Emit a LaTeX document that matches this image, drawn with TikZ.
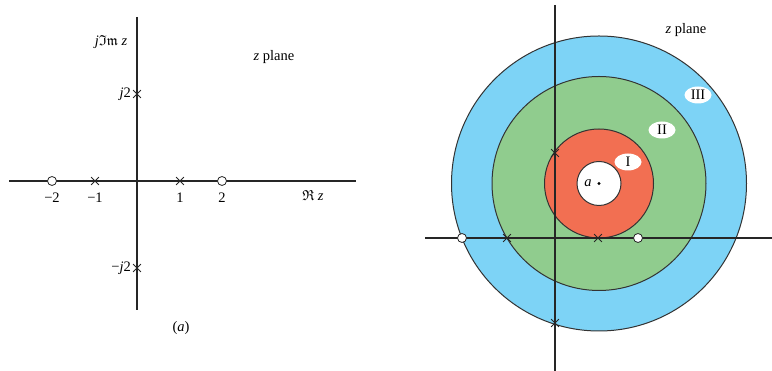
\documentclass[tikz,border=0pt]{standalone}
\usepackage{fontspec}
\usepackage{amssymb}
\setmainfont{Liberation Serif}
\usetikzlibrary{shapes.misc,shapes.geometric}
\definecolor{rblue}{HTML}{7DD3F6}
\definecolor{rgreen}{HTML}{90CC8E}
\definecolor{rred}{HTML}{F26F52}
\definecolor{ring}{HTML}{333333}
\tikzset{
  axis/.style={line width=1.4pt,black!85},
  zero/.style={circle,draw=black!85,fill=white,line width=0.8pt,minimum size=9pt,inner sep=0pt},
  pole/.style={cross out,draw=black!85,line width=0.8pt,minimum size=7pt,inner sep=0pt},
  lbl/.style={font=\fontsize{14.5}{17}\selectfont,inner sep=0pt},
  ringc/.style={draw=ring,line width=1pt},
  tag/.style={ellipse,fill=white,minimum width=27pt,minimum height=17pt,inner sep=0pt,font=\fontsize{14.5}{17}\selectfont},
}
\begin{document}
\begin{tikzpicture}[x=1pt,y=1pt]
\useasboundingbox (0,0) rectangle (772,371);
% ---------- left figure ----------
\coordinate (ly1) at (137,354);
\coordinate (ly2) at (137,61);
\coordinate (lx1) at (9,190);
\coordinate (lx2) at (356,190);
\draw[axis] (ly1) -- (ly2);
\draw[axis] (lx1) -- (lx2);
\node[zero] (lz1) at (52,190) {};
\node[zero] (lz2) at (222,190) {};
\node[pole] (lp1) at (95,190) {};
\node[pole] (lp2) at (180,190) {};
\node[pole] (lp3) at (137,277) {};
\node[pole] (lp4) at (137,103) {};
\node[lbl] (t1) at (52,173) {−2};
\node[lbl] (t2) at (95,173) {−1};
\node[lbl] (t3) at (180,173) {1};
\node[lbl] (t4) at (222,173) {2};
\node[lbl,anchor=east] (t5) at (131,277) {\textit{j}2};
\node[lbl,anchor=east] (t6) at (131,103) {−\textit{j}2};
\node[lbl] (t7) at (111,329) {\textit{j}$\mathfrak{Im}$ \textit{z}};
\node[lbl] (t8) at (274,314) {\textit{z} plane};
\node[lbl] (t9) at (313,176) {$\mathfrak{R}$ \textit{z}};
\node[lbl] (t10) at (181,43) {(\textit{a})};
% ---------- right figure ----------
\coordinate (c) at (599,187.5);
\fill[rblue] (c) circle[radius=147.5pt];
\draw[ringc] (c) circle[radius=147.5pt];
\fill[rgreen] (c) circle[radius=107pt];
\draw[ringc] (c) circle[radius=107pt];
\fill[rred] (c) circle[radius=54.5pt];
\draw[ringc] (c) circle[radius=54.5pt];
\fill[white] (c) circle[radius=22pt];
\draw[ringc] (c) circle[radius=22pt];
\coordinate (ry1) at (555,366);
\coordinate (ry2) at (555,0);
\coordinate (rx1) at (425,133);
\coordinate (rx2) at (772,133);
\draw[axis] (ry1) -- (ry2);
\draw[axis] (rx1) -- (rx2);
\node[zero] (rz1) at (462,133) {};
\node[zero] (rz2) at (638,133) {};
\node[pole] (rp1) at (507,133) {};
\node[pole] (rp2) at (598,133) {};
\node[pole] (rp3) at (555,218) {};
\node[pole] (rp4) at (555,48) {};
\fill (c) circle[radius=1.7pt];
\node[lbl] (ta) at (588,188) {\textit{a}};
\node[tag] (tIII) at (698,276) {III};
\node[tag] (tII) at (662,241) {II};
\node[tag] (tI) at (628,209) {I};
\node[lbl] (tz) at (686,341) {\textit{z} plane};
\end{tikzpicture}
\end{document}
